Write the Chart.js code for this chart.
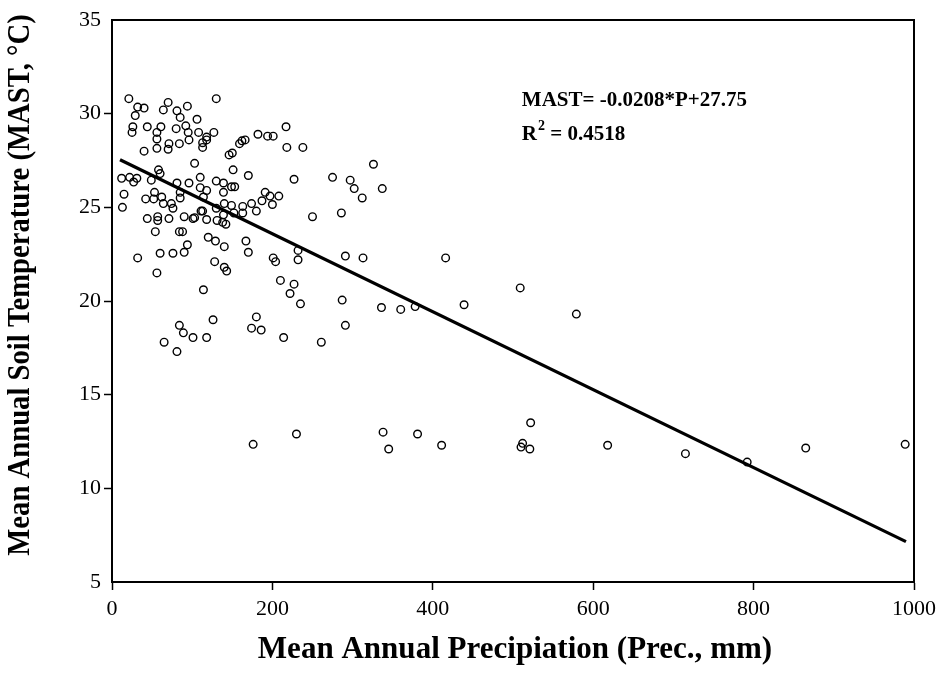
<!DOCTYPE html>
<html>
<head>
<meta charset="utf-8">
<title>MAST vs precipitation</title>
<script src="https://cdn.jsdelivr.net/npm/chart.js@4.4.1/dist/chart.umd.min.js"></script>
<style>
  html, body { margin: 0; padding: 0; background: #fff; }
  #wrap { width: 944px; height: 690px; position: relative; }
</style>
</head>
<body>
<div id="wrap"><canvas id="mastChart" width="944" height="690"></canvas></div>
<script>
// precipitation (mm) and soil temperature (deg C) for each site
var precip = [
  21, 130, 32, 40, 70, 64, 81, 94, 29, 85, 106, 26, 44, 61, 80, 92, 25, 56, 95, 108,
  127, 56, 71, 84, 96, 118, 113, 40, 56, 70, 118, 113, 182, 194, 201, 217, 166, 162, 159, 218,
  238, 150, 146, 151, 170, 227, 275, 297, 130, 139, 149, 153, 118, 191, 197, 208, 139, 140, 149, 163,
  174, 187, 200, 113, 130, 139, 152, 163, 180, 118, 131, 138, 142, 250, 286, 120, 129, 140, 167, 170,
  201, 204, 232, 232, 291, 128, 140, 143, 114, 210, 227, 222, 235, 287, 291, 126, 180, 174, 186, 118,
  214, 261, 326, 302, 337, 312, 313, 416, 509, 336, 360, 378, 439, 579, 176, 230, 338, 345, 381, 411,
  512, 510, 521, 522, 618, 715, 792, 865, 989, 15, 13, 42, 52, 53, 64, 74, 76, 85, 44, 57,
  57, 71, 90, 101, 103, 111, 54, 84, 88, 94, 32, 60, 76, 90, 56, 84, 89, 101, 65, 81,
  12, 22, 27, 31, 49, 58, 60, 81, 103, 96, 110, 110, 114, 85, 62
];
var soilTemp = [
  30.8, 30.8, 30.35, 30.3, 30.6, 30.2, 30.15, 30.4, 29.9, 29.8, 29.7, 29.3, 29.3, 29.3, 29.2, 29.35, 29.0, 29.0, 29.0, 29.0,
  29.0, 28.65, 28.4, 28.4, 28.6, 28.6, 28.45, 28.0, 28.15, 28.1, 28.75, 28.2, 28.9, 28.8, 28.8, 29.3, 28.6, 28.55, 28.4, 28.2,
  28.2, 27.9, 27.8, 27.0, 26.7, 26.5, 26.6, 26.45, 26.4, 26.3, 26.1, 26.1, 25.9, 25.8, 25.6, 25.6, 25.8, 25.2, 25.1, 25.05,
  25.2, 25.35, 25.15, 24.8, 24.95, 24.6, 24.7, 24.7, 24.8, 24.35, 24.3, 24.2, 24.1, 24.5, 24.7, 23.4, 23.2, 22.9, 23.2, 22.6,
  22.3, 22.1, 22.7, 22.2, 22.4, 22.1, 21.8, 21.6, 20.6, 21.1, 20.9, 20.4, 19.85, 20.05, 18.7, 19.0, 19.15, 18.55, 18.45, 18.05,
  18.05, 17.8, 27.3, 26.0, 26.0, 25.5, 22.3, 22.3, 20.7, 19.65, 19.55, 19.7, 19.8, 19.3, 12.35, 12.9, 13.0, 12.1, 12.9, 12.3,
  12.4, 12.2, 12.1, 13.5, 12.3, 11.85, 11.4, 12.15, 12.35, 25.7, 25.0, 25.45, 25.45, 25.8, 25.2, 25.2, 24.95, 25.5, 24.4, 24.5,
  24.3, 24.4, 24.5, 24.4, 24.45, 24.8, 23.7, 23.7, 23.7, 23.0, 22.3, 22.55, 22.55, 22.6, 21.5, 18.7, 18.3, 18.05, 17.8, 17.3,
  26.55, 26.6, 26.35, 26.55, 26.45, 27.0, 26.8, 26.3, 27.35, 26.3, 26.6, 26.05, 25.55, 25.8, 25.55
];

// fitted line MAST = slope*P + intercept
var fitSlope = -0.0208;
var fitIntercept = 27.75;
var fitRange = [10, 990];
var fitR2 = 0.4518;

var xTicks = [0, 200, 400, 600, 800, 1000];
var yTicks = [5, 10, 15, 20, 25, 30, 35];
var xTitle = 'Mean Annual Precipiation (Prec., mm)';
var yTitle = 'Mean Annual Soil Temperature (MAST, \u00B0C)';

var points = precip.map(function (p, i) { return { x: p, y: soilTemp[i] }; });
var fitLine = fitRange.map(function (p) { return { x: p, y: fitSlope * p + fitIntercept }; });

var serif = "'Liberation Serif', 'Times New Roman', serif";

// narrow bold title, squeezed a little horizontally
function drawTitle(ctx, text, x, y, rot, size, squeeze) {
  ctx.save();
  ctx.translate(x, y);
  ctx.rotate(rot);
  ctx.scale(squeeze, 1);
  ctx.font = 'bold ' + size + 'px ' + serif;
  ctx.fillStyle = '#000';
  ctx.textAlign = 'center';
  ctx.textBaseline = 'middle';
  ctx.fillText(text, 0, 0);
  ctx.restore();
}

// top/right frame, axis titles and the equation text
var framePlugin = {
  id: 'frame',
  afterDraw: function (chart) {
    var ctx = chart.ctx, a = chart.chartArea;
    ctx.save();
    ctx.strokeStyle = '#000';
    ctx.lineWidth = 2;
    ctx.beginPath();
    ctx.moveTo(a.left, a.top);
    ctx.lineTo(a.right, a.top);
    ctx.lineTo(a.right, a.bottom);
    ctx.stroke();
    ctx.restore();

    drawTitle(ctx, xTitle, 515, 650, 0, 32, 0.97);
    drawTitle(ctx, yTitle, 21, 285, -Math.PI / 2, 31, 0.925);

    var xs = chart.scales.x, ys = chart.scales.y;
    var tx = xs.getPixelForValue(511);
    var ty1 = ys.getPixelForValue(30.7);
    var ty2 = ys.getPixelForValue(28.9);
    ctx.save();
    ctx.fillStyle = '#000';
    ctx.textBaseline = 'middle';
    ctx.textAlign = 'left';
    ctx.font = 'bold 21px ' + serif;
    ctx.fillText('MAST= ' + fitSlope.toFixed(4) + '*P+' + fitIntercept.toFixed(2), tx, ty1);
    ctx.fillText('R', tx, ty2);
    var rw = ctx.measureText('R').width;
    ctx.font = 'bold 14px ' + serif;
    ctx.fillText('2', tx + rw + 1, ty2 - 8);
    var sw = ctx.measureText('2').width;
    ctx.font = 'bold 21px ' + serif;
    ctx.fillText(' = ' + fitR2.toFixed(4), tx + rw + sw + 1, ty2);
    ctx.restore();
  }
};

function edgeTick(ctx) {
  var v = ctx.tick ? ctx.tick.value : null;
  return (v === 5 || v === 35) ? 'rgba(0,0,0,0)' : '#000';
}

new Chart(document.getElementById('mastChart').getContext('2d'), {
  type: 'scatter',
  data: {
    datasets: [{
      label: 'Fit',
      type: 'line',
      data: fitLine,
      borderColor: '#000',
      borderWidth: 3.2,
      pointRadius: 0,
      fill: false,
      order: 0
    }, {
      label: 'Sites',
      data: points,
      pointRadius: 3.8,
      pointBorderWidth: 1.4,
      pointBorderColor: '#000',
      pointBackgroundColor: 'rgba(255,255,255,0)',
      order: 1
    }]
  },
  options: {
    responsive: false,
    animation: false,
    layout: { padding: { top: 20, right: 30, left: 0, bottom: 0 } },
    plugins: {
      legend: { display: false },
      tooltip: { enabled: false }
    },
    scales: {
      x: {
        type: 'linear',
        min: 0,
        max: 1000,
        afterBuildTicks: function (s) { s.ticks = xTicks.map(function (v) { return { value: v }; }); },
        afterFit: function (s) { s.height = 108; },
        border: { display: true, color: '#000', width: 2 },
        grid: { drawOnChartArea: false, drawTicks: true, tickLength: 8, tickColor: '#000', tickWidth: 1.5 },
        ticks: {
          color: '#000', padding: 6, maxRotation: 0,
          font: { family: serif, size: 22 },
          callback: function (v) { return String(v); }
        }
      },
      y: {
        type: 'linear',
        min: 5,
        max: 35,
        afterBuildTicks: function (s) { s.ticks = yTicks.map(function (v) { return { value: v }; }); },
        afterFit: function (s) { s.width = 112; },
        border: { display: true, color: '#000', width: 2 },
        grid: { drawOnChartArea: false, drawTicks: true, tickLength: 8, tickColor: edgeTick, tickWidth: 1.5 },
        ticks: {
          color: '#000', padding: 3,
          font: { family: serif, size: 22 },
          callback: function (v) { return String(v); }
        }
      }
    }
  },
  plugins: [framePlugin]
});
</script>
</body>
</html>
